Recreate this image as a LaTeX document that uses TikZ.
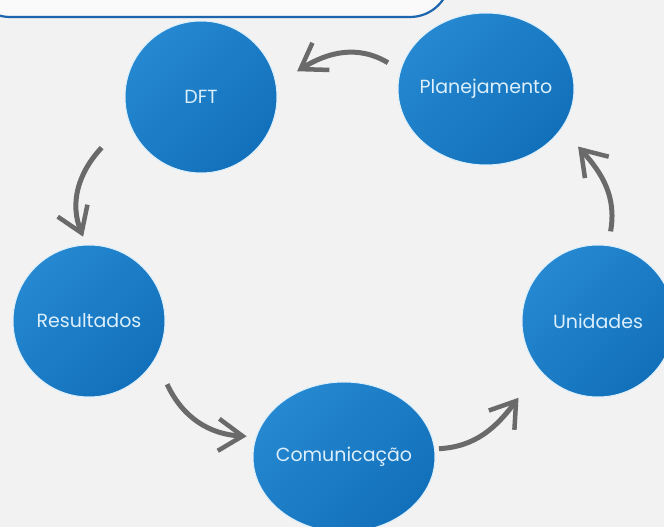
\documentclass[tikz,border=0pt]{standalone}
\usepackage{fontspec}
\setmainfont{Poppins}
\usepackage{tikz}
\usetikzlibrary{shapes.geometric, arrows.meta}
\definecolor{bgGray}{HTML}{F2F2F2}
\definecolor{stageLight}{HTML}{2588D0}
\definecolor{stageDark}{HTML}{1270BA}
\definecolor{stageText}{HTML}{DCEFFC}
\definecolor{arrowGray}{HTML}{6A6A6A}
\definecolor{frameBlue}{HTML}{1D66AE}
\tikzstyle{stage} = [draw=stageText, line width=1pt, top color=stageLight, bottom color=stageDark, shading angle=45, text=stageText, font=\fontsize{19}{21}\selectfont, inner sep=0pt]
\tikzstyle{arrow} = [line width=5pt, arrowGray, -{Straight Barb[length=24pt,width=32pt,line width=4.5pt]}]

\begin{document}
\begin{tikzpicture}[x=1pt,y=1pt]
	% Page and top frame:
	\useasboundingbox (0,0) rectangle (664,-527);
	\fill[bgGray] (0,0) rectangle (664,-527);
	\draw[frameBlue, line width=2.2pt, fill=white!60!bgGray, rounded corners=40pt] (-30,60) rectangle (450,-17);
	
	% Stages:
	\node[stage, ellipse, inner xsep=-14pt, minimum width=176pt, minimum height=152pt] (plan) at (486,-89) {Planejamento};
	\node[stage, circle, minimum size=152pt] (dft) at (201,-97) {DFT};
	\node[stage, circle, minimum size=152pt] (res) at (89,-321) {Resultados};
	\node[stage, ellipse, inner xsep=-14pt, minimum width=182pt, minimum height=150pt] (com) at (344,-457) {Comunicação};
	\node[stage, circle, minimum size=152pt] (uni) at (598,-321) {Unidades};
	
	% Arrows: source/angle/gap/out -- target/angle/gap/in
	\foreach \src/\sa/\sg/\outa/\dst/\da/\dg/\ina in {%
		plan/165/14/149/dft/15/23/32,
		dft/207/35/227/res/94/8/112,
		res/321/24/295/com/168/9/177,
		com/5/4/3/uni/224/34/233,
		uni/82/14/80/plan/328/24/312}{%
		\draw[arrow] ([shift={(\sa:\sg)}]\src.\sa) to[out=\outa,in=\ina] ([shift={(\da:\dg)}]\dst.\da);
	}
\end{tikzpicture}
\end{document}
